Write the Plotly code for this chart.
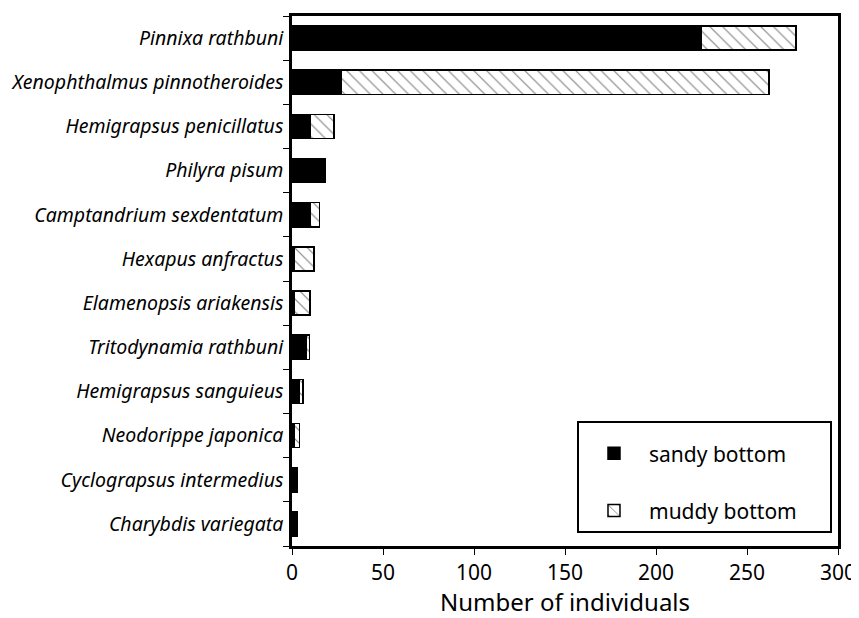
import plotly.graph_objects as go

species = [
    "Pinnixa rathbuni",
    "Xenophthalmus pinnotheroides",
    "Hemigrapsus penicillatus",
    "Philyra pisum",
    "Camptandrium sexdentatum",
    "Hexapus anfractus",
    "Elamenopsis ariakensis",
    "Tritodynamia rathbuni",
    "Hemigrapsus sanguieus",
    "Neodorippe japonica",
    "Cyclograpsus intermedius",
    "Charybdis variegata",
]
sandy = [225, 27, 10, 18, 10, 1, 1, 8, 4, 1, 3, 3]
muddy = [52, 235, 13, 0, 5, 11, 9, 1.5, 2, 3, 0, 0]
x_ticks = [0, 50, 100, 150, 200, 250, 300]
series_names = ["sandy bottom", "muddy bottom"]

font_family = "Noto Sans, DejaVu Sans, sans-serif"
pad = "\u00a0" * 5  # widen the legend box

fig = go.Figure()
fig.add_trace(go.Bar(
    y=species, x=sandy, orientation="h", name=series_names[0] + pad,
    width=0.55, legendgroup="a",
    marker=dict(color="black", line=dict(color="black", width=1.5)),
))
fig.add_trace(go.Bar(
    y=species, x=muddy, orientation="h", name=series_names[1] + pad,
    width=0.55, legendgroup="b",
    marker=dict(color="white", line=dict(color="black", width=1.5),
                pattern=dict(shape="\\", fgcolor="black", bgcolor="white",
                             size=9, solidity=0.12)),
))

# page body has an 8px margin, so the figure is 851x610 placed at (8, 8)
fig.update_layout(
    barmode="stack",
    width=851, height=610,
    margin=dict(l=284, r=21, t=8, b=72),
    plot_bgcolor="white", paper_bgcolor="white",
    font=dict(family=font_family, color="black"),
    showlegend=True,
    legend=dict(
        x=0.989, y=0.025, xanchor="right", yanchor="bottom",
        bgcolor="white", bordercolor="black", borderwidth=2,
        font=dict(size=21, family=font_family),
        itemwidth=60, tracegroupgap=27,
        traceorder="grouped",
        title=dict(text="\u00a0", font=dict(size=8)),
    ),
)
fig.update_xaxes(
    range=[0, 300], tickvals=x_ticks, ticktext=[str(v) for v in x_ticks],
    ticks="outside", ticklen=6, tickwidth=1, tickcolor="black",
    showline=True, linecolor="black", linewidth=2.5, mirror=True,
    showgrid=False, zeroline=False, automargin=False,
    tickfont=dict(size=21),
    title=dict(text="Number of individuals", font=dict(size=24), standoff=0),
)
fig.update_yaxes(
    categoryorder="array", categoryarray=species, autorange="reversed",
    ticks="outside", ticklen=6, tickwidth=1, tickcolor="black",
    tickson="boundaries",
    showline=True, linecolor="black", linewidth=2.5, mirror=True,
    showgrid=False, zeroline=False, automargin=False,
    tickfont=dict(size=19.5),
    ticklabelstandoff=2,
)

# italic species labels
fig.update_yaxes(tickvals=species, ticktext=[f"<i>{s}</i>" for s in species])

fig.write_html("out.html")
